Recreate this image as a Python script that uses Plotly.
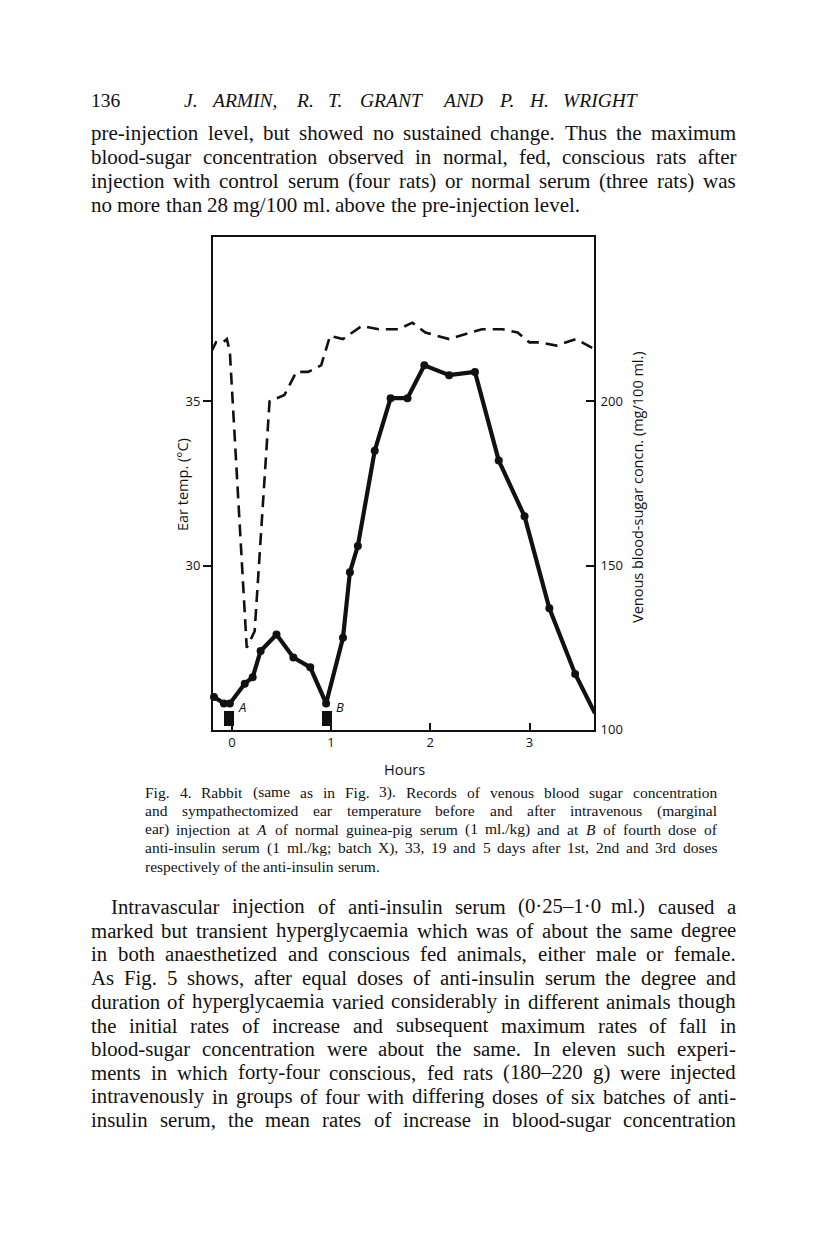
import re
import plotly.graph_objects as go

# ---- data ----
sugar_hours = [-0.18, -0.08, -0.02, 0.13, 0.21, 0.29, 0.45, 0.62, 0.79, 0.95,
               1.12, 1.19, 1.27, 1.44, 1.60, 1.77, 1.94, 2.19, 2.45, 2.69,
               2.95, 3.20, 3.46, 3.66]
sugar_mg = [110, 108, 108, 114, 116, 124, 129, 122, 119, 108,
            128, 148, 156, 185, 201, 201, 211, 208, 209, 182,
            165, 137, 117, 105]

temp_hours = [-0.21, -0.16, -0.09, -0.05, -0.02, 0.15, 0.23, 0.38, 0.53, 0.65,
              0.77, 0.90, 0.99, 1.12, 1.31, 1.48, 1.68, 1.82, 1.95, 2.19,
              2.52, 2.73, 2.88, 3.00, 3.11, 3.27, 3.47, 3.65]
temp_c = [36.5, 36.8, 36.8, 36.9, 36.5, 27.5, 28.0, 35.0, 35.2, 35.9,
          35.9, 36.1, 37.0, 36.9, 37.3, 37.2, 37.2, 37.4, 37.1, 36.9,
          37.2, 37.2, 37.1, 36.8, 36.8, 36.7, 36.9, 36.6]

inj_labels = ["A", "B"]
inj_hours = [-0.03, 0.96]

hour_ticks = [0, 1, 2, 3]
temp_ticks = [30, 35]
sugar_ticks = [100, 150, 200]

header_no = "136"
header_title = "J. ARMIN, R. T. GRANT AND P. H. WRIGHT"
para_top = [
    "pre-injection level, but showed no sustained change. Thus the maximum",
    "blood-sugar concentration observed in normal, fed, conscious rats after",
    "injection with control serum (four rats) or normal serum (three rats) was",
    "no more than 28 mg/100 ml. above the pre-injection level.",
]
caption = [
    "Fig. 4.  Rabbit (same as in Fig. 3).  Records of venous blood sugar concentration",
    "and sympathectomized ear temperature before and after intravenous (marginal",
    "ear) injection at <i>A</i> of normal guinea-pig serum (1 ml./kg) and at <i>B</i> of fourth dose of",
    "anti-insulin serum (1 ml./kg; batch X), 33, 19 and 5 days after 1st, 2nd and 3rd doses",
    "respectively of the anti-insulin serum.",
]
para_bottom = [
    "Intravascular injection of anti-insulin serum (0·25–1·0\u2009ml.) caused a",
    "marked but transient hyperglycaemia which was of about the same degree",
    "in both anaesthetized and conscious fed animals, either male or female.",
    "As Fig. 5 shows, after equal doses of anti-insulin serum the degree and",
    "duration of hyperglycaemia varied considerably in different animals though",
    "the initial rates of increase and subsequent maximum rates of fall in",
    "blood-sugar concentration were about the same. In eleven such experi-",
    "ments in which forty-four conscious, fed rats (180–220\u2009g) were injected",
    "intravenously in groups of four with differing doses of six batches of anti-",
    "insulin serum, the mean rates of increase in blood-sugar concentration",
]

W, H = 816, 1234
SERIF = "Liberation Serif"
SANS = "Open Sans"


def X(px):
    return px / W


def Y(py):
    return 1 - py / H


# rough Times (Liberation Serif) advance widths, per 1000 em
_w = {" ": 250, "!": 333, "(": 333, ")": 333, ",": 250, "-": 333, ".": 250, "/": 278,
      ":": 278, ";": 278, "–": 500, "·": 250, "\u2009": 167}
_w.update({d: 500 for d in "0123456789"})
_w.update(dict(zip("ABCDEFGHIJKLMNOPQRSTUVWXYZ",
                   [722, 667, 667, 722, 611, 556, 722, 722, 333, 389, 722, 611, 889,
                    722, 722, 556, 722, 667, 556, 611, 722, 722, 944, 722, 722, 611])))
_w.update(dict(zip("abcdefghijklmnopqrstuvwxyz",
                   [444, 500, 444, 500, 444, 333, 500, 500, 278, 278, 500, 278, 778,
                    500, 500, 500, 500, 333, 389, 278, 500, 500, 722, 500, 500, 444])))


def measure(word, size):
    plain = re.sub(r"<[^>]+>", "", word)
    return sum(_w.get(c, 500) for c in plain) * size / 1000


def fit_size(lines, x0, x1, cap, fill=0.975):
    # largest size (up to cap) at which every line still fits with normal spaces
    best = cap
    for ln in lines:
        nat = measure(" ".join(ln.split()), 1.0)
        best = min(best, fill * (x1 - x0) / nat)
    return best


annotations = []


def put_line(text, x0, x1, y, size, justify=True, italic=False):
    words = text.split()
    widths = [measure(w, size) for w in words]
    if justify and len(words) > 1:
        gap = (x1 - x0 - sum(widths)) / (len(words) - 1)
    else:
        gap = 0.25 * size
    x = x0
    for w, wd in zip(words, widths):
        annotations.append(dict(
            x=X(x), y=Y(y), xref="paper", yref="paper", text=w, showarrow=False,
            xanchor="left", yanchor="middle", borderpad=0,
            font=dict(family=SERIF, size=size, color="#111",
                      style="italic" if italic else "normal")))
        x += wd + gap


# header
annotations.append(dict(x=X(82), y=Y(93), xref="paper", yref="paper", text=header_no,
                        showarrow=False, xanchor="left", yanchor="middle", borderpad=0,
                        font=dict(family=SERIF, size=19.5, color="#111")))
put_line(header_title, 175, 632, 93, 19.5, italic=True)

L, R = 82, 727
s_top = fit_size(para_top[:-1], L, R, 21)
for i, line in enumerate(para_top):
    put_line(line, L, R, 126 + 24 * i, s_top, justify=i < len(para_top) - 1)

CL, CR = 136, 708
s_cap = fit_size(caption[:-1], CL, CR, 15.5)
for i, line in enumerate(caption):
    put_line(line, CL, CR, 790 + 18.6 * i, s_cap, justify=i < len(caption) - 1)

s_bot = fit_size(para_bottom, L, R, 21)
for i, line in enumerate(para_bottom):
    put_line(line, L + 20 if i == 0 else L, R, 905 + 23.9 * i, s_bot)

# chart labels
tick_font = dict(family=SANS, size=13, color="#111")
title_font = dict(family=SANS, size=14.5, color="#111")
annotations += [
    dict(x=X(396), y=Y(767), xref="paper", yref="paper", text="Hours", showarrow=False,
         font=title_font),
    dict(x=X(163), y=Y(480), xref="paper", yref="paper", text="Ear temp. (°C)",
         textangle=-90, showarrow=False, font=title_font),
    dict(x=X(641), y=Y(483), xref="paper", yref="paper",
         text="Venous blood-sugar concn. (mg/100 ml.)", textangle=-90, showarrow=False,
         font=title_font),
]
for name, h in zip(inj_labels, inj_hours):
    annotations.append(dict(x=h + 0.07, y=25.7, xref="x", yref="y", text=f"<i>{name}</i>",
                            showarrow=False, xanchor="left", yanchor="middle",
                            font=dict(family=SANS, size=13, color="#111")))

fig = go.Figure()
fig.add_trace(go.Bar(x=inj_hours, y=[0.45] * len(inj_hours), base=25.1, width=0.1,
                     marker=dict(color="#111", line=dict(width=0)), yaxis="y",
                     showlegend=False, hoverinfo="skip"))
fig.add_trace(go.Scatter(x=temp_hours, y=temp_c, mode="lines", yaxis="y",
                         line=dict(color="#111", width=2.6, dash="12px,7px"),
                         name="Ear temp.", showlegend=False, cliponaxis=False))
fig.add_trace(go.Scatter(x=sugar_hours, y=sugar_mg, mode="lines+markers", yaxis="y2",
                         line=dict(color="#111", width=4.2),
                         marker=dict(color="#111", size=8),
                         name="Blood sugar", showlegend=False, cliponaxis=False))

fig.update_layout(
    width=W, height=H, autosize=False,
    margin=dict(l=0, r=0, t=0, b=0),
    paper_bgcolor="white", plot_bgcolor="white",
    showlegend=False,
    annotations=annotations,
    xaxis=dict(domain=[X(205), X(586)], range=[-0.19, 3.65], tickvals=hour_ticks,
               ticks="inside", ticklen=7, tickwidth=1.5, tickcolor="#111",
               showline=True, linecolor="#111", linewidth=2, mirror=True,
               showgrid=False, zeroline=False, tickfont=tick_font),
    yaxis=dict(domain=[Y(727), Y(231)], range=[25, 40], tickvals=temp_ticks,
               ticks="outside", ticklen=8, tickwidth=1.5, tickcolor="#111",
               showline=True, linecolor="#111", linewidth=2,
               showgrid=False, zeroline=False, tickfont=tick_font),
    yaxis2=dict(overlaying="y", side="right", range=[100, 250], tickvals=sugar_ticks,
                ticks="inside", ticklen=8, tickwidth=1.5, tickcolor="#111",
                showline=True, linecolor="#111", linewidth=2,
                showgrid=False, zeroline=False, tickfont=tick_font, ticklabelstandoff=2),
    bargap=0,
)

fig.write_html("out.html")
